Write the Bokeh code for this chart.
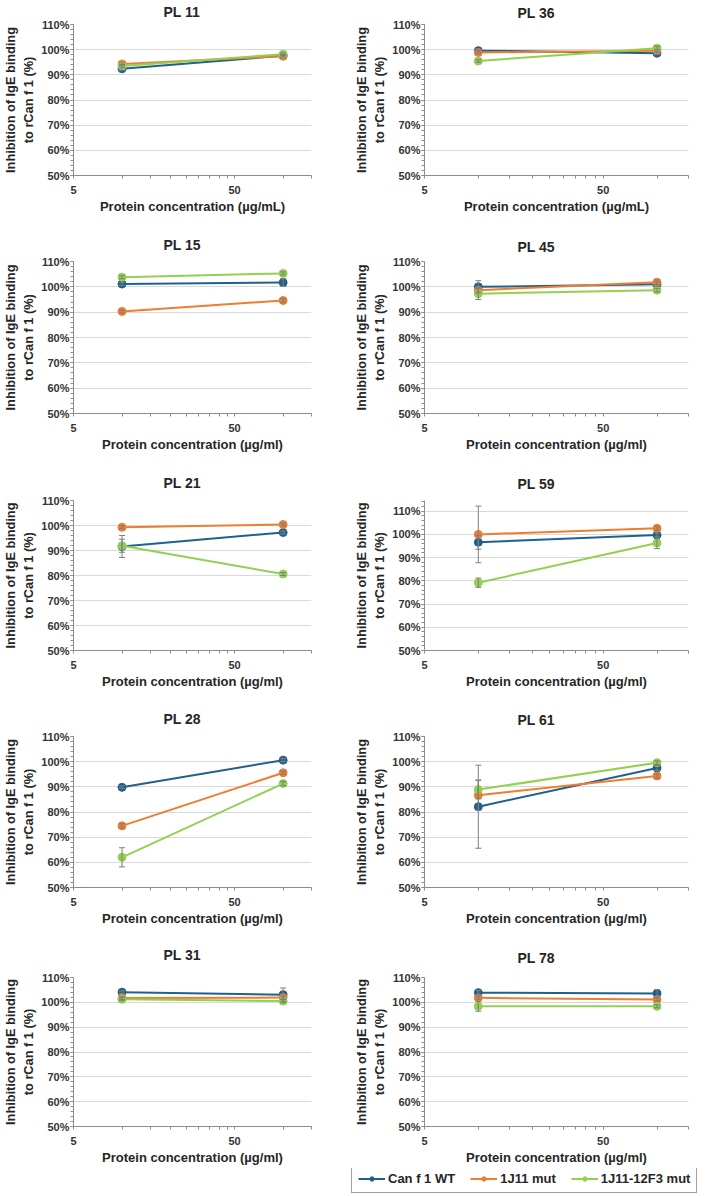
from bokeh.plotting import figure
from bokeh.layouts import column, row
from bokeh.models import (Range1d, FixedTicker, NumeralTickFormatter, ColumnDataSource,
                          Whisker, TeeHead, Legend, LegendItem, Spacer)
from bokeh.embed import file_html
from bokeh.resources import INLINE

# ---------------- data ----------------
panel_names = ["PL 11", "PL 36", "PL 15", "PL 45", "PL 21",
               "PL 59", "PL 28", "PL 61", "PL 31", "PL 78"]
x_titles = ["Protein concentration (µg/mL)", "Protein concentration (µg/mL)"] + \
           ["Protein concentration (µg/ml)"] * 8
y_title = "Inhibition of IgE binding\nto rCan f 1 (%)"
concentration = [10, 100]
series_names = ["Can f 1 WT", "1J11 mut", "1J11-12F3 mut"]

# inhibition (%) at 10 and 100 µg/ml, panels in the order of panel_names
wt_mean = [[92.4, 97.6], [99.6, 98.6], [101.1, 101.7], [100.0, 101.0], [91.6, 97.2],
           [96.6, 99.7], [89.8, 100.6], [82.1, 97.5], [104.1, 103.1], [103.9, 103.6]]
wt_err = [[0.6, 0.5], [0.5, 0.6], [0.6, 1.5], [2.4, 0.8], [4.4, 0.6],
          [3.0, 0.8], [0.5, 0.6], [16.5, 1.0], [0.5, 2.7], [0.8, 1.5]]
j11_mean = [[94.3, 97.4], [98.9, 99.6], [90.3, 94.6], [98.7, 101.8], [99.3, 100.4],
            [100.0, 102.6], [74.5, 95.6], [86.7, 94.3], [101.7, 101.9], [101.8, 101.1]]
j11_err = [[0.5, 0.6], [0.6, 0.5], [0.6, 0.8], [0.8, 0.9], [0.6, 0.5],
           [12.2, 0.8], [0.8, 0.6], [6.0, 0.8], [0.6, 0.6], [0.7, 0.6]]
f3_mean = [[93.5, 98.2], [95.5, 100.6], [103.8, 105.3], [97.3, 98.7], [91.9, 80.6],
           [79.2, 96.3], [62.0, 91.3], [88.9, 99.6], [101.2, 100.5], [98.4, 98.4]]
f3_err = [[0.6, 0.5], [0.5, 0.7], [0.6, 0.6], [2.3, 0.7], [2.6, 0.6],
          [2.0, 2.4], [3.8, 0.8], [3.7, 0.7], [0.6, 0.7], [2.0, 0.6]]

y_major_ticks = [0.5, 0.6, 0.7, 0.8, 0.9, 1.0, 1.1]
x_major_ticks = [5, 50]
x_minor_ticks = [10, 15, 20, 25, 30, 35, 40, 45, 100, 150]

# ---------------- style / layout ----------------
colors = ["#20618b", "#ED7D31", "#92D050"]
FONT = "Liberation Sans"
TXT = "#262626"
y_top = [1.1, 1.1, 1.1, 1.1, 1.1, 1.146, 1.1, 1.1, 1.1, 1.1]
# per row: height, border top, border bottom
rows_geom = [(228, 24, 53), (238, 33, 53), (234, 34, 50), (232, 36, 45), (236, 45, 42)]
LEG_H = 26
# per panel: title standoff (controls gap between title and plot area)
title_standoff = [5, 4, 14, 9, 15, 13, 15, 13, 26, 19]
L_W, R_W = 346, 352
L_BL, L_BR = 65, 35
R_BL, R_BR = 78, 10
L_TITLE_OFF, R_TITLE_OFF = 90, 93

means = [wt_mean, j11_mean, f3_mean]
errs = [wt_err, j11_err, f3_err]
y_minor = [round(0.5 + 0.02 * i, 2) for i in range(0, 33)]

figs = []
for k, name in enumerate(panel_names):
    H, bt, bb = rows_geom[k // 2]
    left = (k % 2 == 0)
    W = L_W if left else R_W
    bl, br = (L_BL, L_BR) if left else (R_BL, R_BR)
    p = figure(width=W, height=H, x_axis_type="log", title=name,
               x_range=Range1d(5, 150), y_range=Range1d(0.5, y_top[k]),
               toolbar_location=None, output_backend="svg",
               min_border_left=bl, min_border_right=br,
               min_border_top=bt, min_border_bottom=bb)
    p.outline_line_color = None
    p.background_fill_color = "white"
    p.border_fill_color = "white"

    p.title.align = "left"
    p.title.offset = L_TITLE_OFF if left else R_TITLE_OFF
    p.title.vertical_align = "top"
    p.title.standoff = title_standoff[k]
    p.title.text_font = FONT
    p.title.text_font_size = "14px"
    p.title.text_font_style = "bold"
    p.title.text_color = TXT

    p.xaxis.ticker = FixedTicker(ticks=x_major_ticks, minor_ticks=x_minor_ticks)
    p.xaxis.formatter = NumeralTickFormatter(format="0")
    p.yaxis.ticker = FixedTicker(ticks=y_major_ticks,
                                 minor_ticks=[v for v in y_minor if v <= y_top[k]])
    p.yaxis.formatter = NumeralTickFormatter(format="0%")
    p.xaxis.axis_label = x_titles[k]
    p.yaxis.axis_label = y_title
    for ax in (p.xaxis, p.yaxis):
        ax.axis_line_color = "#8c8c8c"
        ax.major_tick_line_color = "#8c8c8c"
        ax.minor_tick_line_color = "#8c8c8c"
        ax.major_tick_in = 0
        ax.major_tick_out = 3
        ax.minor_tick_in = 0
        ax.minor_tick_out = 3
        ax.major_label_text_font = FONT
        ax.major_label_text_font_size = "11px"
        ax.major_label_text_font_style = "bold"
        ax.major_label_text_color = "#333333"
        ax.axis_label_text_font = FONT
        ax.axis_label_text_font_style = "bold"
        ax.axis_label_text_color = TXT
    p.xaxis.axis_label_text_font_size = "13px"
    p.yaxis.axis_label_text_font_size = "12.75px"
    p.xaxis.major_label_standoff = 7
    p.xaxis.axis_label_standoff = 2
    p.yaxis.major_label_standoff = 1
    p.yaxis.axis_label_standoff = 2
    p.xgrid.visible = False
    p.ygrid.grid_line_color = "#d9d9d9"
    p.ygrid.grid_line_width = 1

    for s in range(3):
        m = [v / 100 for v in means[s][k]]
        e = [v / 100 for v in errs[s][k]]
        src = ColumnDataSource(dict(x=concentration, y=m,
                                    up=[a + b for a, b in zip(m, e)],
                                    lo=[a - b for a, b in zip(m, e)]))
        w = Whisker(base="x", upper="up", lower="lo", source=src,
                    line_color="#7f7f7f", line_width=1, level="glyph",
                    upper_head=TeeHead(size=6, line_color="#7f7f7f", line_width=1),
                    lower_head=TeeHead(size=6, line_color="#7f7f7f", line_width=1))
        p.add_layout(w)
    for s in range(3):
        m = [v / 100 for v in means[s][k]]
        src = ColumnDataSource(dict(x=concentration, y=m))
        p.line("x", "y", source=src, line_color=colors[s], line_width=2)
        p.scatter("x", "y", source=src, size=8, fill_color=colors[s],
                  line_color=colors[s])
    figs.append(p)

# legend strip under the last panel (its proxy glyphs lie outside its own view)
lg = figure(width=R_W, height=LEG_H, x_range=Range1d(0, 1), y_range=Range1d(0, 1),
            toolbar_location=None, output_backend="svg",
            x_axis_location=None, y_axis_location=None,
            min_border_left=0, min_border_right=0, min_border_top=0, min_border_bottom=0)
lg.outline_line_color = None
lg.grid.visible = False
lg.background_fill_color = "white"
lg.border_fill_color = "white"
items = []
for s in range(3):
    m = [v / 100 for v in means[s][-1]]
    src = ColumnDataSource(dict(x=concentration, y=m))
    rl = lg.line("x", "y", source=src, line_color=colors[s], line_width=2)
    rs = lg.scatter("x", "y", source=src, size=8, fill_color=colors[s],
                    line_color=colors[s])
    items.append(LegendItem(label=series_names[s], renderers=[rl, rs]))
legend = Legend(items=items, orientation="horizontal", location=(5, 1),
                padding=6, spacing=15, margin=0, glyph_width=27, glyph_height=11,
                label_standoff=3, label_height=11,
                label_text_font=FONT, label_text_font_size="13px",
                label_text_font_style="bold", label_text_color=TXT,
                border_line_color="#404040", border_line_width=1,
                background_fill_color="white", background_fill_alpha=1.0)
lg.add_layout(legend)

layout = column(
    row(figs[0], figs[1]),
    row(figs[2], figs[3]),
    row(figs[4], figs[5]),
    row(figs[6], figs[7]),
    row(figs[8], figs[9]),
    row(Spacer(width=L_W, height=LEG_H), lg),
)

open("out.html", "w").write(file_html(layout, INLINE))
